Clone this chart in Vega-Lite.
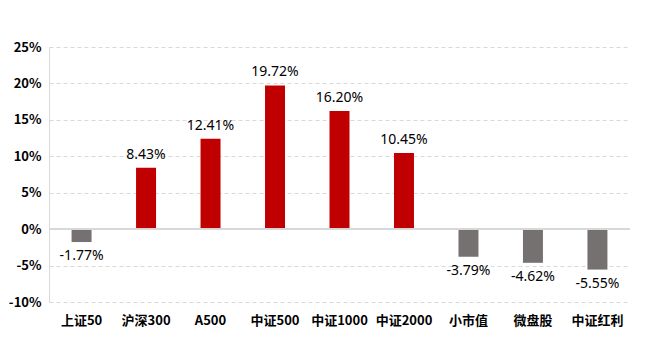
{
  "$schema": "https://vega.github.io/schema/vega-lite/v6.json",
  "autosize": "none",
  "width": 581,
  "height": 255,
  "padding": {"left": 49, "top": 47, "right": 16, "bottom": 46},
  "background": "white",
  "config": {
    "view": {"stroke": null},
    "font": "Noto Sans CJK SC"
  },
  "data": {
    "values": [
      {"name": "上证50", "value": -1.77},
      {"name": "沪深300", "value": 8.43},
      {"name": "A500", "value": 12.41},
      {"name": "中证500", "value": 19.72},
      {"name": "中证1000", "value": 16.20},
      {"name": "中证2000", "value": 10.45},
      {"name": "小市值", "value": -3.79},
      {"name": "微盘股", "value": -4.62},
      {"name": "中证红利", "value": -5.55}
    ]
  },
  "transform": [
    {"calculate": "replace(format(datum.value, '.2f'), '\u2212', '-') + '%'", "as": "label"}
  ],
  "encoding": {
    "x": {
      "field": "name", "type": "nominal", "sort": null,
      "scale": {"paddingInner": 0.69, "paddingOuter": 0.35},
      "axis": {
        "title": null, "domain": false, "ticks": false, "labelAngle": 0,
        "labelFont": "Noto Sans CJK SC", "labelFontSize": 13, "labelFontWeight": "bold",
        "labelColor": "#000000", "labelPadding": 12
      }
    },
    "y": {
      "field": "value", "type": "quantitative",
      "scale": {"domain": [-10, 25], "nice": false, "zero": false},
      "axis": {
        "title": null, "values": [-10, -5, 0, 5, 10, 15, 20, 25],
        "labelExpr": "datum.value + '%'",
        "domain": true, "domainColor": "#d9d9d9", "ticks": false,
        "grid": true, "gridColor": "#d9d9d9", "gridDash": [4, 3],
        "labelFont": "Noto Sans CJK SC", "labelFontSize": 13, "labelFontWeight": "bold",
        "labelColor": "#000000", "labelPadding": 8
      }
    }
  },
  "layer": [
    {
      "mark": {"type": "bar"},
      "encoding": {
        "color": {
          "condition": {"test": "datum.value >= 0", "value": "#C00000"},
          "value": "#767171"
        }
      }
    },
    {
      "mark": {"type": "rule", "color": "#d9d9d9", "strokeWidth": 1},
      "encoding": {"y": {"datum": 0}, "x": {"value": 0}, "x2": {"value": 581}}
    },
    {
      "transform": [{"filter": "datum.value >= 0"}],
      "mark": {"type": "text", "baseline": "bottom", "dy": -6, "fontSize": 14, "color": "#000000", "font": "Noto Sans"},
      "encoding": {"text": {"field": "label", "type": "nominal"}}
    },
    {
      "transform": [{"filter": "datum.value < 0"}],
      "mark": {"type": "text", "baseline": "top", "dy": 7, "fontSize": 14, "color": "#000000", "font": "Noto Sans"},
      "encoding": {"text": {"field": "label", "type": "nominal"}}
    }
  ]
}
